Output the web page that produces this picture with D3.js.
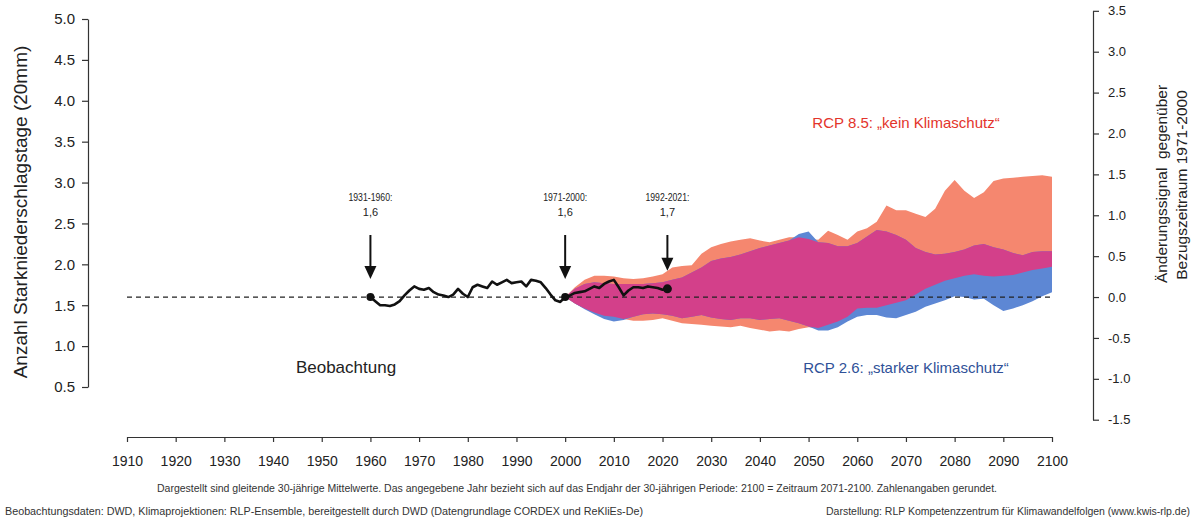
<!DOCTYPE html>
<html>
<head>
<meta charset="utf-8">
<script src="https://cdn.jsdelivr.net/npm/d3@7"></script>
<style>
  body { margin: 0; background: #fff; }
  svg { display: block; }
</style>
</head>
<body>
<div id="chart"></div>
<script>
// Observed 30-year moving means (end year)
const obsYears = [1960, 1961, 1962, 1963, 1964, 1965, 1966, 1967, 1968, 1969,
  1970, 1971, 1972, 1973, 1974, 1975, 1976, 1977, 1978, 1979,
  1980, 1981, 1982, 1983, 1984, 1985, 1986, 1987, 1988, 1989,
  1990, 1991, 1992, 1993, 1994, 1995, 1996, 1997, 1998, 1999,
  2000, 2001, 2002, 2003, 2004, 2005, 2006, 2007, 2008, 2009,
  2010, 2011, 2012, 2013, 2014, 2015, 2016, 2017, 2018, 2019, 2020, 2021];
const obsValues = [1.60, 1.55, 1.50, 1.50, 1.49, 1.51, 1.55, 1.62, 1.68, 1.73,
  1.70, 1.69, 1.71, 1.66, 1.63, 1.62, 1.60, 1.63, 1.70, 1.64,
  1.60, 1.72, 1.75, 1.73, 1.71, 1.79, 1.75, 1.78, 1.81, 1.77,
  1.78, 1.79, 1.73, 1.81, 1.80, 1.78, 1.71, 1.63, 1.56, 1.54,
  1.60, 1.62, 1.65, 1.66, 1.67, 1.70, 1.73, 1.71, 1.76, 1.79,
  1.81, 1.72, 1.62, 1.68, 1.72, 1.72, 1.71, 1.73, 1.72, 1.71, 1.69, 1.70];

// Projection ensemble ranges
const bandYears = [2000, 2002, 2004, 2006, 2008, 2010, 2012, 2014, 2016, 2018,
  2020, 2022, 2024, 2026, 2028, 2030, 2032, 2034, 2036, 2038,
  2040, 2042, 2044, 2046, 2048, 2050, 2052, 2054, 2056, 2058,
  2060, 2062, 2064, 2066, 2068, 2070, 2072, 2074, 2076, 2078,
  2080, 2082, 2084, 2086, 2088, 2090, 2092, 2094, 2096, 2098, 2100];
const rcp85High = [1.60, 1.72, 1.81, 1.86, 1.86, 1.85, 1.83, 1.82, 1.83, 1.85,
  1.88, 1.96, 1.98, 1.99, 2.13, 2.21, 2.25, 2.28, 2.30, 2.32,
  2.29, 2.27, 2.30, 2.33, 2.33, 2.31, 2.30, 2.41, 2.36, 2.30,
  2.40, 2.44, 2.52, 2.72, 2.66, 2.66, 2.62, 2.58, 2.68, 2.90,
  3.03, 2.90, 2.81, 2.88, 3.02, 3.05, 3.06, 3.07, 3.08, 3.09, 3.07];
const rcp85Low = [1.60, 1.52, 1.46, 1.41, 1.37, 1.36, 1.33, 1.31, 1.31, 1.32,
  1.34, 1.31, 1.28, 1.27, 1.26, 1.25, 1.24, 1.23, 1.25, 1.22,
  1.20, 1.18, 1.19, 1.18, 1.21, 1.23, 1.22, 1.26, 1.30, 1.36,
  1.46, 1.47, 1.47, 1.50, 1.53, 1.56, 1.63, 1.70, 1.75, 1.80,
  1.83, 1.86, 1.88, 1.86, 1.85, 1.86, 1.87, 1.90, 1.93, 1.95, 1.97];
const rcp26High = [1.60, 1.70, 1.76, 1.78, 1.77, 1.76, 1.76, 1.76, 1.76, 1.77,
  1.78, 1.81, 1.84, 1.90, 1.96, 2.04, 2.07, 2.09, 2.12, 2.16,
  2.20, 2.23, 2.26, 2.29, 2.37, 2.40, 2.27, 2.26, 2.22, 2.22,
  2.26, 2.34, 2.42, 2.40, 2.36, 2.30, 2.20, 2.15, 2.12, 2.13,
  2.15, 2.18, 2.23, 2.25, 2.21, 2.18, 2.14, 2.11, 2.15, 2.16, 2.16];
const rcp26Low = [1.60, 1.52, 1.45, 1.39, 1.33, 1.30, 1.32, 1.36, 1.39, 1.40,
  1.39, 1.37, 1.34, 1.36, 1.38, 1.35, 1.33, 1.32, 1.34, 1.34,
  1.32, 1.33, 1.34, 1.31, 1.28, 1.24, 1.19, 1.19, 1.23, 1.30,
  1.36, 1.38, 1.38, 1.35, 1.34, 1.38, 1.42, 1.48, 1.52, 1.56,
  1.61, 1.60, 1.57, 1.58, 1.50, 1.43, 1.46, 1.50, 1.55, 1.61, 1.66];

// Reference periods
const refYears = [1960, 2000, 2021];
const refPeriods = ['1931-1960:', '1971-2000:', '1992-2021:'];
const refLabels = ['1,6', '1,6', '1,7'];
const baseline = 1.6;

const xTicks = [1910, 1920, 1930, 1940, 1950, 1960, 1970, 1980, 1990, 2000,
  2010, 2020, 2030, 2040, 2050, 2060, 2070, 2080, 2090, 2100];
const yTicks = [0.5, 1.0, 1.5, 2.0, 2.5, 3.0, 3.5, 4.0, 4.5, 5.0];
const rTicks = [-1.5, -1.0, -0.5, 0.0, 0.5, 1.0, 1.5, 2.0, 2.5, 3.0, 3.5];

const COL_85 = '#f5876f', COL_26 = '#5d87d4', COL_BOTH = '#d3408a';
const FONT = 'Liberation Sans, Arial, sans-serif';
const NARROW = 'Liberation Sans Narrow, Arial Narrow, Liberation Sans, Arial, sans-serif';
const fmt = d => d3.format('.1f')(d).replace('\u2212', '-');

const width = 1195, height = 520;
const x = d3.scaleLinear().domain([1910, 2100]).range([127, 1052]);
const y = d3.scaleLinear().domain([0.5, 5.0]).range([387, 19]);
const yR = d3.scaleLinear().domain([-1.5, 3.5]).range([y(baseline - 1.5), y(baseline + 3.5)]);

const svg = d3.select('#chart').append('svg')
  .attr('width', width).attr('height', height)
  .attr('viewBox', `0 0 ${width} ${height}`);

// Bands: RCP 8.5, RCP 2.6, overlap
const bandArea = (lo, hi) => d3.area()
  .x((d, i) => x(bandYears[i]))
  .y0((d, i) => y(lo[i]))
  .y1((d, i) => y(hi[i]));

svg.append('path').datum(bandYears).attr('d', bandArea(rcp85Low, rcp85High)).attr('fill', COL_85);
svg.append('path').datum(bandYears).attr('d', bandArea(rcp26Low, rcp26High)).attr('fill', COL_26);

const overlapLow = bandYears.map((d, i) => Math.max(rcp85Low[i], rcp26Low[i]));
const overlapHigh = bandYears.map((d, i) => Math.max(overlapLow[i], Math.min(rcp85High[i], rcp26High[i])));
svg.append('path').datum(bandYears).attr('d', bandArea(overlapLow, overlapHigh)).attr('fill', COL_BOTH);

// Baseline 1971-2000
svg.append('line')
  .attr('x1', x(1910)).attr('x2', x(2100))
  .attr('y1', y(baseline)).attr('y2', y(baseline))
  .attr('stroke', '#222').attr('stroke-width', 1.3).attr('stroke-dasharray', '5,4');

// Observation line
const obsLine = d3.line().x((d, i) => x(obsYears[i])).y((d, i) => y(obsValues[i]));
svg.append('path').datum(obsValues).attr('d', obsLine)
  .attr('fill', 'none').attr('stroke', '#111').attr('stroke-width', 2.6).attr('stroke-linejoin', 'round');

refYears.forEach((yr, i) => {
  const v = obsValues[obsYears.indexOf(yr)];
  const cx = x(yr), cy = y(v);
  svg.append('circle').attr('cx', cx).attr('cy', cy).attr('r', i === 2 ? 4.5 : 4).attr('fill', '#111');

  // arrow
  const tip = cy - 18;
  svg.append('line').attr('x1', cx).attr('x2', cx).attr('y1', 235).attr('y2', tip - 10)
    .attr('stroke', '#111').attr('stroke-width', 2);
  svg.append('path').attr('d', `M ${cx - 6} ${tip - 13} L ${cx + 6} ${tip - 13} L ${cx} ${tip} Z`).attr('fill', '#111');

  svg.append('text').attr('x', cx - 22).attr('y', 201)
    .attr('font-family', NARROW).attr('font-size', '11px').attr('fill', '#222')
    .attr('textLength', 44).attr('lengthAdjust', 'spacingAndGlyphs').text(refPeriods[i]);
  svg.append('text').attr('x', cx).attr('y', 216).attr('text-anchor', 'middle')
    .attr('font-family', NARROW).attr('font-size', '11px').attr('fill', '#222').text(refLabels[i]);
});

// Axes
function styleAxis(g, size) {
  g.selectAll('path, line').attr('stroke', '#333').attr('stroke-width', 1.2);
  g.selectAll('text').attr('font-family', FONT).attr('font-size', size).attr('fill', '#222');
}

svg.append('g').attr('transform', 'translate(0,437)')
  .call(d3.axisBottom(x).tickValues(xTicks).tickFormat(d3.format('d')).tickSize(5).tickSizeOuter(0).tickPadding(14))
  .call(g => styleAxis(g, '14px'));

svg.append('g').attr('transform', 'translate(88,0)')
  .call(d3.axisLeft(y).tickValues(yTicks).tickFormat(fmt).tickSize(6).tickSizeOuter(0).tickPadding(7))
  .call(g => styleAxis(g, '15px'));

svg.append('g').attr('transform', 'translate(1093,0)')
  .call(d3.axisRight(yR).tickValues(rTicks).tickFormat(fmt).tickSize(6).tickSizeOuter(0).tickPadding(9))
  .call(g => styleAxis(g, '13px'));

// Axis titles
svg.append('text').attr('transform', 'translate(20,212) rotate(-90)')
  .attr('text-anchor', 'middle').attr('dy', '0.35em')
  .attr('font-family', FONT).attr('font-size', '19px').attr('fill', '#222')
  .text('Anzahl Starkniederschlagstage (20mm)');
svg.append('text').attr('transform', 'translate(1162,184) rotate(-90)')
  .attr('text-anchor', 'middle').attr('dy', '0.35em')
  .attr('font-family', FONT).attr('font-size', '15.5px').attr('fill', '#222')
  .attr('xml:space', 'preserve')
  .text('Änderungssignal  gegenüber');
svg.append('text').attr('transform', 'translate(1182,185) rotate(-90)')
  .attr('text-anchor', 'middle').attr('dy', '0.35em')
  .attr('font-family', FONT).attr('font-size', '15.5px').attr('fill', '#222')
  .text('Bezugszeitraum 1971-2000');

// Labels in plot
svg.append('text').attr('x', 346).attr('y', 373).attr('text-anchor', 'middle')
  .attr('font-family', FONT).attr('font-size', '17px').attr('fill', '#222').text('Beobachtung');
svg.append('text').attr('x', 906).attr('y', 128).attr('text-anchor', 'middle')
  .attr('font-family', FONT).attr('font-size', '15px').attr('fill', '#e3342b').text('RCP 8.5: „kein Klimaschutz“');
svg.append('text').attr('x', 906).attr('y', 373).attr('text-anchor', 'middle')
  .attr('font-family', FONT).attr('font-size', '15px').attr('fill', '#2f5198').text('RCP 2.6: „starker Klimaschutz“');

// Footnotes
function note(txt, x0, x1, yy) {
  svg.append('text').attr('x', x0).attr('y', yy)
    .attr('font-family', NARROW).attr('font-size', '10px').attr('fill', '#333')
    .attr('textLength', x1 - x0).attr('lengthAdjust', 'spacingAndGlyphs').text(txt);
}
note('Dargestellt sind gleitende 30-jährige Mittelwerte. Das angegebene Jahr bezieht sich auf das Endjahr der 30-jährigen Periode: 2100 = Zeitraum 2071-2100. Zahlenangaben gerundet.', 157, 997, 492);
note('Beobachtungsdaten: DWD, Klimaprojektionen: RLP-Ensemble, bereitgestellt durch DWD (Datengrundlage CORDEX und ReKliEs-De)', 5, 643, 515);
note('Darstellung: RLP Kompetenzzentrum für Klimawandelfolgen (www.kwis-rlp.de)', 826, 1190, 515);
</script>
</body>
</html>
